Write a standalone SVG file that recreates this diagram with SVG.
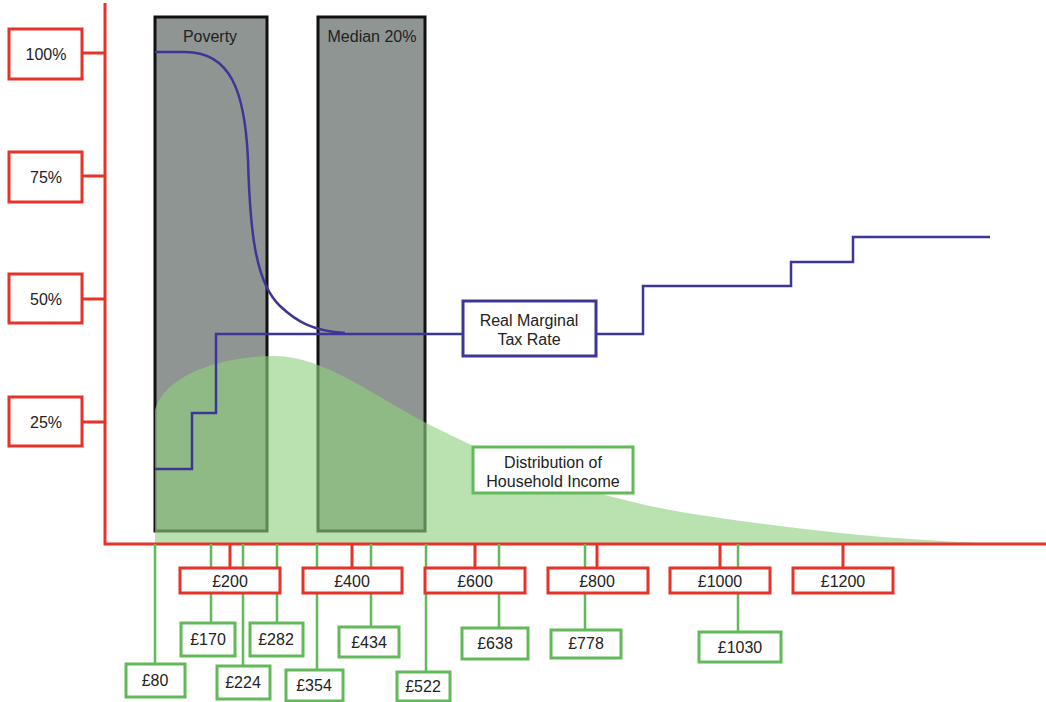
<svg xmlns="http://www.w3.org/2000/svg" width="1046" height="702" viewBox="0 0 1046 702">
<style>
text{font-family:"Liberation Sans",Arial,sans-serif;font-size:16px;fill:#222;text-anchor:middle}
.band{fill:#8f9592;stroke:#111;stroke-width:3}
.rbox{fill:#fff;stroke:#e5332a;stroke-width:3}
.gbox{fill:#fff;stroke:#62b95a;stroke-width:3}
.bbox{fill:#fff;stroke:#3d3699;stroke-width:3}
.rl{stroke:#e5332a;stroke-width:3;fill:none}
.gl{stroke:#62b95a;stroke-width:2.5;fill:none}
.bl{stroke:#3d3699;stroke-width:2.5;fill:none}
</style>
<rect width="1046" height="702" fill="#fff"/>
<g id="poverty"><rect class="band" x="155" y="17" width="112" height="514"/><text x="210" y="42">Poverty</text></g>
<g id="median"><rect class="band" x="318" y="17" width="107" height="514"/><text x="372" y="42">Median 20%</text></g>
<g id="distribution-area"><path d="M155,544 L155,410 C164,376 220,356 275,356 C325,356 380,400 430,425 C520,470 600,500 700,515 C800,530 900,541 1010,544 Z" fill="#8fd07f" fill-opacity="0.62"/></g>
<g id="connectors">
<path class="rl" d="M105,3 V544 H1046"/>
<path class="rl" d="M82,53 H105 M82,176 H105 M82,299 H105 M82,422 H105"/>
<path class="rl" d="M230,544 V568 M352,544 V568 M475,544 V568 M597,544 V568 M720,544 V568 M843,544 V568"/>
<path class="gl" d="M155,544 V664 M211,544 V623 M243,544 V666 M277,544 V623 M317,544 V670 M371,544 V627 M426,544 V672 M499,544 V628 M585,544 V630 M738,544 V632"/>
<path class="bl" d="M155,469 H192 V413 H216 V334 H463 M596,334 H643 V286 H791 V262 H853 V237 H990"/>
<path class="bl" d="M155,52 L185,52 C230,52 245,90 248,160 C250,230 255,282 280,306 C296,321 312,331 345,333"/>
</g>
<g id="y100"><rect class="rbox" x="9" y="29" width="73" height="50"/><text x="46" y="60">100%</text></g>
<g id="y75"><rect class="rbox" x="9" y="152" width="73" height="50"/><text x="46" y="183">75%</text></g>
<g id="y50"><rect class="rbox" x="9" y="274" width="73" height="49"/><text x="46" y="305">50%</text></g>
<g id="y25"><rect class="rbox" x="9" y="397" width="73" height="49"/><text x="46" y="428">25%</text></g>
<g id="tax-label"><rect class="bbox" x="463" y="301" width="133" height="55"/><text x="529" y="326">Real Marginal</text><text x="529" y="345">Tax Rate</text></g>
<g id="dist-label"><rect class="gbox" x="473" y="447" width="160" height="46"/><text x="553" y="468">Distribution of</text><text x="553" y="487">Household Income</text></g>
<g id="x200"><rect class="rbox" x="180" y="568" width="100" height="25"/><text x="230" y="587">£200</text></g>
<g id="x400"><rect class="rbox" x="303" y="568" width="99" height="25"/><text x="352" y="587">£400</text></g>
<g id="x600"><rect class="rbox" x="425" y="568" width="100" height="25"/><text x="475" y="587">£600</text></g>
<g id="x800"><rect class="rbox" x="548" y="568" width="100" height="25"/><text x="597" y="587">£800</text></g>
<g id="x1000"><rect class="rbox" x="670" y="568" width="100" height="25"/><text x="720" y="587">£1000</text></g>
<g id="x1200"><rect class="rbox" x="793" y="568" width="100" height="25"/><text x="843" y="587">£1200</text></g>
<g id="g80"><rect class="gbox" x="126" y="664" width="59" height="33"/><text x="155" y="686">£80</text></g>
<g id="g170"><rect class="gbox" x="181" y="623" width="54" height="33"/><text x="208" y="645">£170</text></g>
<g id="g224"><rect class="gbox" x="217" y="666" width="53" height="33"/><text x="243" y="688">£224</text></g>
<g id="g282"><rect class="gbox" x="250" y="623" width="53" height="33"/><text x="276" y="645">£282</text></g>
<g id="g354"><rect class="gbox" x="286" y="670" width="57" height="31"/><text x="314" y="691">£354</text></g>
<g id="g434"><rect class="gbox" x="339" y="627" width="60" height="30"/><text x="369" y="648">£434</text></g>
<g id="g522"><rect class="gbox" x="397" y="672" width="53" height="29"/><text x="423" y="692">£522</text></g>
<g id="g638"><rect class="gbox" x="462" y="628" width="66" height="31"/><text x="495" y="649">£638</text></g>
<g id="g778"><rect class="gbox" x="551" y="630" width="70" height="28"/><text x="586" y="649">£778</text></g>
<g id="g1030"><rect class="gbox" x="699" y="632" width="82" height="30"/><text x="740" y="653">£1030</text></g>
</svg>
